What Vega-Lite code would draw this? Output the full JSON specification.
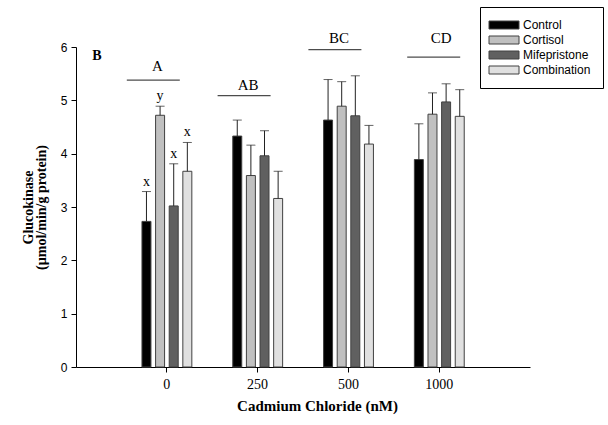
{
  "$schema": "https://vega.github.io/schema/vega-lite/v6.json",
  "width": 454,
  "height": 320,
  "autosize": {"type": "none"},
  "padding": {"left": 76, "top": 47, "right": 78, "bottom": 58},
  "background": "white",
  "config": {
    "view": {"stroke": null},
    "axis": {"grid": false, "domainColor": "black", "tickColor": "black", "labelColor": "black", "titleColor": "black"}
  },
  "datasets": {
    "bars": [
      {"group": "0", "treatment": "Control", "value": 2.73, "err": 3.29, "letter": "x"},
      {"group": "0", "treatment": "Cortisol", "value": 4.72, "err": 4.89, "letter": "y"},
      {"group": "0", "treatment": "Mifepristone", "value": 3.02, "err": 3.81, "letter": "x"},
      {"group": "0", "treatment": "Combination", "value": 3.67, "err": 4.21, "letter": "x"},
      {"group": "250", "treatment": "Control", "value": 4.33, "err": 4.63, "letter": ""},
      {"group": "250", "treatment": "Cortisol", "value": 3.59, "err": 4.16, "letter": ""},
      {"group": "250", "treatment": "Mifepristone", "value": 3.96, "err": 4.43, "letter": ""},
      {"group": "250", "treatment": "Combination", "value": 3.16, "err": 3.67, "letter": ""},
      {"group": "500", "treatment": "Control", "value": 4.63, "err": 5.39, "letter": ""},
      {"group": "500", "treatment": "Cortisol", "value": 4.89, "err": 5.35, "letter": ""},
      {"group": "500", "treatment": "Mifepristone", "value": 4.71, "err": 5.46, "letter": ""},
      {"group": "500", "treatment": "Combination", "value": 4.18, "err": 4.53, "letter": ""},
      {"group": "1000", "treatment": "Control", "value": 3.89, "err": 4.56, "letter": ""},
      {"group": "1000", "treatment": "Cortisol", "value": 4.74, "err": 5.14, "letter": ""},
      {"group": "1000", "treatment": "Mifepristone", "value": 4.97, "err": 5.31, "letter": ""},
      {"group": "1000", "treatment": "Combination", "value": 4.70, "err": 5.20, "letter": ""}
    ],
    "sig": [
      {"group": "0", "level": 5.38, "ty": 5.64, "label": "A"},
      {"group": "250", "level": 5.09, "ty": 5.28, "label": "AB"},
      {"group": "500", "level": 5.95, "ty": 6.17, "label": "BC"},
      {"group": "1000", "level": 5.81, "ty": 6.17, "label": "CD"}
    ]
  },
  "layer": [
    {
      "data": {"name": "bars"},
      "mark": {"type": "bar", "stroke": "#404040", "strokeWidth": 1},
      "encoding": {
        "x": {
          "field": "group", "type": "nominal",
          "scale": {"domain": ["0", "250", "500", "1000"], "paddingInner": 0, "paddingOuter": 0.5},
          "axis": {
            "title": "Cadmium Chloride (nM)", "labelAngle": 0, "labelFont": "Liberation Serif", "labelFontSize": 14,
            "labelDx": 12, "labelPadding": 5, "tickSize": 5, "titleFont": "Liberation Serif", "titleFontSize": 15,
            "titleFontWeight": "bold", "titlePadding": 7, "titleX": 241
          }
        },
        "xOffset": {
          "field": "treatment", "type": "nominal",
          "scale": {"domain": ["Control", "Cortisol", "Mifepristone", "Combination"], "range": [18.25, 72.75], "paddingInner": 0.34, "paddingOuter": 0.17}
        },
        "y": {
          "field": "value", "type": "quantitative",
          "scale": {"domain": [0, 6], "nice": false},
          "axis": {
            "title": ["Glucokinase", "(µmol/min/g protein)"], "values": [0, 1, 2, 3, 4, 5, 6], "tickSize": 5,
            "labelFont": "Liberation Sans", "labelFontSize": 12, "labelPadding": 4,
            "titleFont": "Liberation Serif", "titleFontSize": 14, "titleFontWeight": "bold", "titlePadding": 12, "titleLineHeight": 13
          }
        },
        "color": {
          "field": "treatment", "type": "nominal",
          "scale": {"domain": ["Control", "Cortisol", "Mifepristone", "Combination"], "range": ["#000000", "#c0c0c0", "#606060", "#e0e0e0"]},
          "legend": {
            "title": null, "orient": "none", "legendX": 404, "legendY": -40,
            "strokeColor": "black", "fillColor": "white", "padding": 12,
            "labelFont": "Liberation Sans", "labelFontSize": 12, "labelColor": "black",
            "symbolType": "M-1.8,-0.8H4.2V0.8H-1.8Z", "symbolSize": 100, "symbolStrokeColor": "#404040", "symbolStrokeWidth": 1,
            "rowPadding": 3, "labelOffset": 19
          }
        }
      }
    },
    {
      "data": {"name": "bars"},
      "mark": {"type": "rule", "color": "#222222", "strokeWidth": 1},
      "encoding": {
        "x": {"field": "group", "type": "nominal"},
        "xOffset": {"field": "treatment", "type": "nominal"},
        "y": {"field": "value", "type": "quantitative"},
        "y2": {"field": "err"}
      }
    },
    {
      "data": {"name": "bars"},
      "mark": {"type": "tick", "orient": "horizontal", "color": "#222222", "thickness": 1, "size": 9},
      "encoding": {
        "x": {"field": "group", "type": "nominal"},
        "xOffset": {"field": "treatment", "type": "nominal"},
        "y": {"field": "err", "type": "quantitative"}
      }
    },
    {
      "data": {"name": "bars"},
      "mark": {"type": "text", "font": "Liberation Serif", "fontSize": 14, "baseline": "bottom", "dy": -3, "color": "black"},
      "encoding": {
        "x": {"field": "group", "type": "nominal"},
        "xOffset": {"field": "treatment", "type": "nominal"},
        "y": {"field": "err", "type": "quantitative"},
        "text": {"field": "letter"}
      }
    },
    {
      "data": {"name": "sig"},
      "transform": [{"filter": "datum.group !== '1000'"}],
      "mark": {"type": "tick", "orient": "horizontal", "color": "black", "thickness": 1.2, "size": 53, "xOffset": -13.5},
      "encoding": {
        "x": {"field": "group", "type": "nominal"},
        "y": {"field": "level", "type": "quantitative"}
      }
    },
    {
      "data": {"name": "sig"},
      "transform": [{"filter": "datum.group === '1000'"}],
      "mark": {"type": "tick", "orient": "horizontal", "color": "black", "thickness": 1.2, "size": 53, "xOffset": -5.5},
      "encoding": {
        "x": {"field": "group", "type": "nominal"},
        "y": {"field": "level", "type": "quantitative"}
      }
    },
    {
      "data": {"name": "sig"},
      "transform": [{"filter": "datum.group !== '1000'"}],
      "mark": {"type": "text", "font": "Liberation Serif", "fontSize": 15, "baseline": "middle", "xOffset": -9.5, "color": "black"},
      "encoding": {
        "x": {"field": "group", "type": "nominal"},
        "y": {"field": "ty", "type": "quantitative"},
        "text": {"field": "label"}
      }
    },
    {
      "data": {"name": "sig"},
      "transform": [{"filter": "datum.group === '1000'"}],
      "mark": {"type": "text", "font": "Liberation Serif", "fontSize": 15, "baseline": "middle", "xOffset": 2, "color": "black"},
      "encoding": {
        "x": {"field": "group", "type": "nominal"},
        "y": {"field": "ty", "type": "quantitative"},
        "text": {"field": "label"}
      }
    },
    {
      "data": {"values": [{"panel": "B", "px": "0", "py": 5.83}]},
      "mark": {"type": "text", "font": "Liberation Serif", "fontSize": 14, "fontWeight": "bold", "baseline": "middle", "color": "black", "dx": -70},
      "encoding": {
        "x": {"field": "px", "type": "nominal"},
        "y": {"field": "py", "type": "quantitative"},
        "text": {"field": "panel"}
      }
    }
  ]
}
